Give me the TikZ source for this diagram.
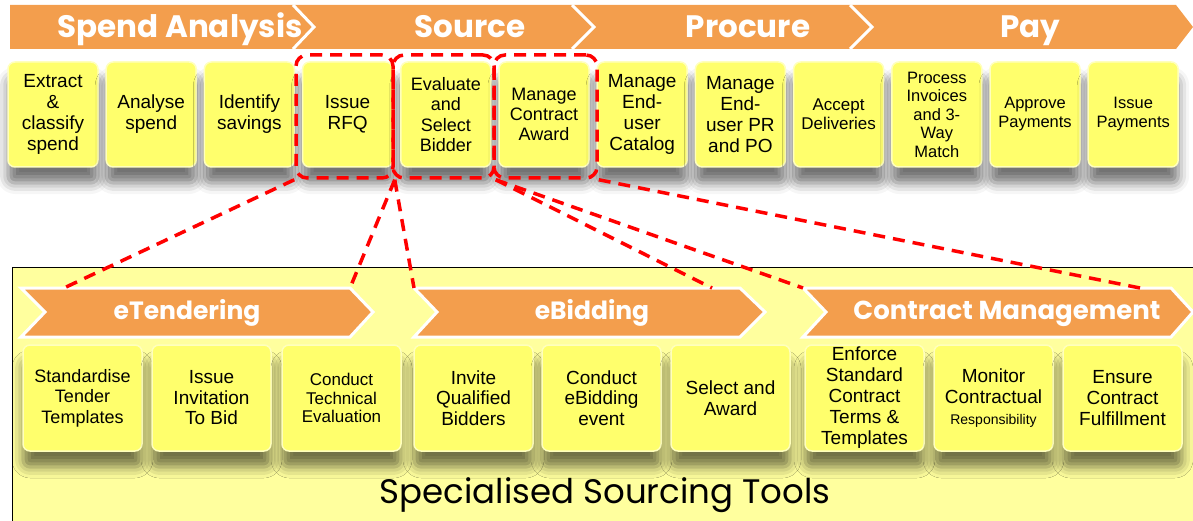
\documentclass[tikz,border=0pt]{standalone}
\usepackage{fontspec}
\setmainfont{Liberation Sans}
\newfontfamily\titelfont{Poppins}
\usetikzlibrary{shadows.blur}

\definecolor{bannerorange}{RGB}{243,158,77}
\definecolor{boxgelb}{RGB}{255,255,108}
\definecolor{panelgelb}{RGB}{255,255,158}
\definecolor{rahmenrot}{RGB}{255,0,0}

\tikzset{
  schritt/.style={rounded corners=7pt, fill=boxgelb, draw=white!55!boxgelb, line width=1.5pt,
    align=center, inner sep=1pt, font=\fontsize{19}{21}\selectfont,
    blur shadow={shadow xshift=0pt, shadow yshift=-16pt, shadow blur radius=11pt, shadow opacity=55}},
  obenbox/.style={schritt, minimum width=90pt, minimum height=105pt},
  untenbox/.style={schritt, minimum width=119pt, minimum height=106pt},
  phase/.style={fill=bannerorange, draw=white, line width=3pt},
  phasentext/.style={text=white, font=\titelfont\bfseries\fontsize{25}{28}\selectfont},
  bannertext/.style={text=white, anchor=base, font=\titelfont\bfseries\fontsize{31}{32}\selectfont},
  auswahl/.style={draw=rahmenrot, line width=3.5pt, dash pattern=on 12pt off 8pt,
    rounded corners=11pt, minimum height=123pt},
  verweis/.style={draw=rahmenrot, line width=3.5pt, dash pattern=on 12pt off 8pt},
}

\begin{document}
\begin{tikzpicture}[x=1pt, y=-1pt]
    \clip (0,0) rectangle (1193,521);

    % zeichne Prozessbanner
    \fill[bannerorange] (10,5) -- (1176,5) -- (1193,27) -- (1176,49) -- (10,49) -- cycle;
    \draw[white, line width=3pt] (293,5) -- (314,27) -- (293,49);
    \draw[white, line width=3pt] (572,5) -- (594,27) -- (572,49);
    \draw[white, line width=3pt] (850,5) -- (872,27) -- (850,49);
    \node[bannertext] (spend) at (180,38) {Spend Analysis};
    \node[bannertext] (source) at (470,38) {Source};
    \node[bannertext] (procure) at (748,38) {Procure};
    \node[bannertext] (pay) at (1030,38) {Pay};

    % zeichne Prozessschritte
    \node[obenbox] (extract) at (53,114.5) {Extract\\\&\\classify\\spend};
    \node[obenbox] (analyse) at (151.2,114.5) {Analyse\\spend};
    \node[obenbox] (identify) at (249.4,114.5) {Identify\\savings};
    \node[obenbox] (rfq) at (347.6,114.5) {Issue\\RFQ};
    \node[obenbox, font=\fontsize{18}{20.5}\selectfont] (evaluate) at (445.8,114.5) {Evaluate\\and\\Select\\Bidder};
    \node[obenbox, font=\fontsize{18}{20}\selectfont] (award) at (544,114.5) {Manage\\Contract\\Award};
    \node[obenbox] (catalog) at (642.2,114.5) {Manage\\End-\\user\\Catalog};
    \node[obenbox] (prpo) at (740.4,114.5) {Manage\\End-\\user PR\\and PO};
    \node[obenbox, font=\fontsize{17}{19}\selectfont] (accept) at (838.6,114.5) {Accept\\Deliveries};
    \node[obenbox, font=\fontsize{16.5}{18.5}\selectfont] (invoices) at (936.8,114.5) {Process\\Invoices\\and 3-\\Way\\Match};
    \node[obenbox, font=\fontsize{16.5}{19}\selectfont] (approve) at (1035,114.5) {Approve\\Payments};
    \node[obenbox, font=\fontsize{16.5}{19}\selectfont] (issuepay) at (1133.2,114.5) {Issue\\Payments};

    % zeichne Auswahlrahmen
    \node[auswahl, minimum width=97pt] (wahlRFQ) at (344.5,116.5) {};
    \node[auswahl, minimum width=101pt] (wahlBieter) at (443.5,116.5) {};
    \node[auswahl, minimum width=103pt] (wahlVertrag) at (545.5,116.5) {};

    % zeichne Werkzeugbereich
    \draw[fill=panelgelb, line width=1pt] (12,267) rectangle (1210,530);
    \node[font=\titelfont\fontsize{34}{38}\selectfont] (titel) at (605,495) {Specialised Sourcing Tools};

    % zeichne Werkzeugphasen
    \draw[phase] (21,288) -- (350,288) coordinate (tendRO) -- (373,312) -- (350,337) -- (21,337) -- (45,312) -- cycle;
    \draw[phase] (414,288) coordinate (bidLO) -- (740,288) -- (765,312) -- (740,337) -- (414,337) -- (437,312) -- cycle;
    \draw[phase] (803,288) coordinate (vertLO) -- (1171,288) -- (1193,312) -- (1171,337) -- (803,337) -- (826,312) -- cycle;
    \coordinate (tendOben) at (64,288);
    \coordinate (bidOben) at (712,288);
    \coordinate (vertOben) at (1140,288);
    \node[phasentext] (etender) at (187,313) {eTendering};
    \node[phasentext] (ebid) at (592,313) {eBidding};
    \node[phasentext, font=\titelfont\bfseries\fontsize{26}{28}\selectfont] (vertrag) at (1007,314) {Contract Management};

    % zeichne Werkzeuge
    \node[untenbox, font=\fontsize{18}{20.5}\selectfont] (tender) at (82.5,398) {Standardise\\Tender\\Templates};
    \node[untenbox, font=\fontsize{19}{20.5}\selectfont] (invitation) at (211.5,398) {Issue\\Invitation\\To Bid};
    \node[untenbox, font=\fontsize{17}{18.5}\selectfont] (technical) at (341.5,398) {Conduct\\Technical\\Evaluation};
    \node[untenbox, font=\fontsize{19}{20.5}\selectfont] (invite) at (473.5,398) {Invite\\Qualified\\Bidders};
    \node[untenbox, font=\fontsize{19}{20.5}\selectfont] (event) at (601.5,398) {Conduct\\eBidding\\event};
    \node[untenbox] (select) at (730.5,398) {Select and\\Award};
    \node[untenbox] (enforce) at (864.5,398) {Enforce\\Standard\\Contract\\Terms \&\\Templates};
    \node[untenbox] (monitor) at (993.5,398) {Monitor\\Contractual\\{\fontsize{14}{16}\selectfont Responsibility}};
    \node[untenbox] (ensure) at (1122.5,398) {Ensure\\Contract\\Fulfillment};

    % zeichne Verweise
    \draw[verweis] (wahlRFQ.south west) -- (tendOben);
    \draw[verweis] (wahlRFQ.south east) -- (tendRO);
    \draw[verweis] (wahlRFQ.south east) -- (bidLO);
    \draw[verweis] (wahlBieter.south east) -- (bidOben);
    \draw[verweis] (wahlBieter.south east) -- (vertLO);
    \draw[verweis] (wahlVertrag.south east) -- (vertOben);
\end{tikzpicture}
\end{document}
